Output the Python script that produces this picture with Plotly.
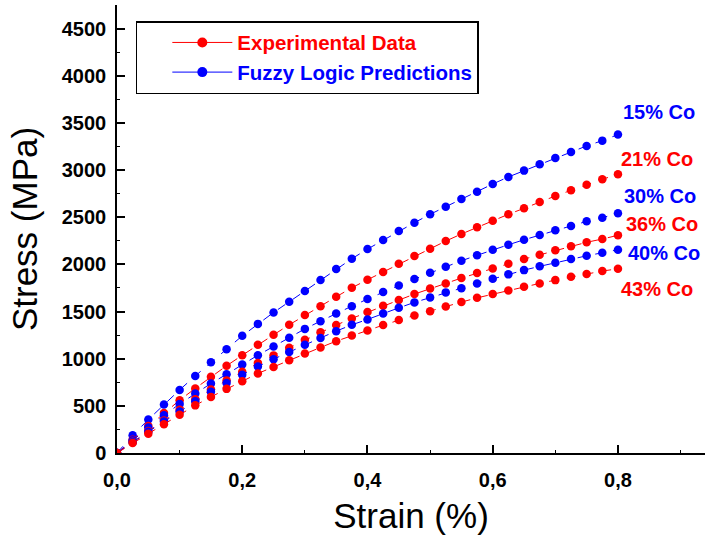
import plotly.graph_objects as go

# strain (%) sample points shared by every curve
strain = [0.0, 0.025, 0.05, 0.075, 0.1, 0.125, 0.15, 0.175, 0.2, 0.225, 0.25,
          0.275, 0.3, 0.325, 0.35, 0.375, 0.4, 0.425, 0.45, 0.475, 0.5, 0.525,
          0.55, 0.575, 0.6, 0.625, 0.65, 0.675, 0.7, 0.725, 0.75, 0.775, 0.8]

# stress (MPa)
co15 = [0, 188, 354, 514, 669, 817, 963, 1101, 1242, 1369, 1490, 1603, 1718, 1834,
        1950, 2060, 2162, 2258, 2354, 2442, 2531, 2612, 2693, 2771, 2852, 2927,
        2994, 3062, 3128, 3192, 3256, 3312, 3376]
co21 = [0, 140, 285, 425, 560, 685, 808, 925, 1036, 1147, 1253, 1359, 1462, 1557,
        1656, 1752, 1837, 1918, 2006, 2088, 2166, 2247, 2322, 2393, 2463, 2531,
        2594, 2661, 2725, 2785, 2845, 2902, 2955]
co30 = [0, 135, 270, 400, 520, 630, 737, 835, 938, 1037, 1129, 1221, 1316, 1398,
        1480, 1557, 1632, 1706, 1777, 1844, 1911, 1975, 2038, 2096, 2155, 2208,
        2261, 2311, 2361, 2407, 2456, 2495, 2541]
co36 = [0, 118, 232, 345, 458, 570, 673, 770, 862, 953, 1035, 1115, 1200, 1280,
        1356, 1427, 1494, 1561, 1621, 1685, 1745, 1798, 1855, 1908, 1957, 2006,
        2056, 2102, 2149, 2191, 2234, 2269, 2308]
co40 = [0, 115, 225, 333, 440, 550, 650, 742, 830, 918, 995, 1072, 1148, 1220,
        1292, 1359, 1416, 1480, 1539, 1597, 1650, 1703, 1748, 1798, 1847, 1894,
        1939, 1979, 2017, 2056, 2091, 2123, 2155]
co43 = [0, 105, 205, 305, 405, 505, 595, 680, 762, 843, 913, 984, 1055, 1119,
        1186, 1246, 1299, 1356, 1409, 1459, 1504, 1554, 1600, 1645, 1685, 1724,
        1762, 1798, 1833, 1868, 1897, 1929, 1953]

series_names = ["15% Co", "21% Co", "30% Co", "36% Co", "40% Co", "43% Co"]
series_values = [co15, co21, co30, co36, co40, co43]
series_kind = ["fuzzy", "exp", "fuzzy", "exp", "fuzzy", "exp"]

# where the right-hand labels sit (strain, stress)
label_x = [0.805, 0.802, 0.807, 0.809, 0.813, 0.802]
label_y = [3620, 3116, 2724, 2425, 2116, 1738]

RED = "#ff0000"
BLUE = "#0000ff"
FONT = "Arial, Liberation Sans, sans-serif"
colors = {"exp": RED, "fuzzy": BLUE}

fig = go.Figure()

# legend entries (solid line samples)
fig.add_trace(go.Scatter(
    x=[None], y=[None], mode="lines+markers",
    line=dict(color=RED, width=1), marker=dict(color=RED, size=10),
    name="<span style='color:#ff0000'>Experimental Data</span>",
))
fig.add_trace(go.Scatter(
    x=[None], y=[None], mode="lines+markers",
    line=dict(color=BLUE, width=1), marker=dict(color=BLUE, size=10),
    name="<span style='color:#0000ff'>Fuzzy Logic Predictions</span>",
))

for name, vals, kind in zip(series_names, series_values, series_kind):
    c = colors[kind]
    fig.add_trace(go.Scatter(
        x=strain, y=vals, mode="lines+markers", name=name, showlegend=False,
        line=dict(color=c, width=1, dash="dash"),
        marker=dict(color=c, size=8.5),
    ))

for name, kind, lx, ly in zip(series_names, series_kind, label_x, label_y):
    fig.add_annotation(
        x=lx, y=ly, xref="x", yref="y", text=name, showarrow=False,
        xanchor="left", yanchor="middle",
        font=dict(family=FONT, size=20, color=colors[kind], weight="bold"),
    )

axis_common = dict(
    showline=True, linecolor="black", linewidth=1.5,
    ticks="inside", ticklen=8, tickwidth=1.5, tickcolor="black",
    showgrid=False, zeroline=False, automargin=False,
    tickfont=dict(family=FONT, size=20, color="black", weight="bold"),
)

fig.update_layout(
    width=705, height=539,
    margin=dict(l=117, r=0, t=5, b=86),
    paper_bgcolor="white", plot_bgcolor="white",
    separators=", ",
    xaxis=dict(
        range=[0, 0.939], tick0=0, dtick=0.2, tickformat=".1f",
        ticklabelstandoff=8,
        minor=dict(dtick=0.1, tick0=0, ticks="inside", ticklen=3,
                   tickcolor="black", tickwidth=1),
        title=dict(text="Strain (%)", standoff=14,
                   font=dict(family=FONT, size=35, color="black")),
        **axis_common,
    ),
    xaxis2=dict(
        overlaying="x", side="top", anchor="y", range=[0, 0.939],
        tick0=0.1, dtick=0.2, showticklabels=False,
        minor=dict(dtick=0.1, tick0=0, ticks="inside", ticklen=3,
                   tickcolor="black", tickwidth=1),
        **{k: v for k, v in axis_common.items() if k != "tickfont"},
    ),
    yaxis=dict(
        range=[0, 4750], tick0=0, dtick=500, tickformat="d",
        ticklabelstandoff=5,
        minor=dict(dtick=250, ticks="inside", ticklen=3,
                   tickcolor="black", tickwidth=1),
        title=dict(text="Stress (MPa)", standoff=14,
                   font=dict(family=FONT, size=35, color="black")),
        **axis_common,
    ),
    legend=dict(
        x=0.032, y=0.964, xanchor="left", yanchor="top",
        bgcolor="white", bordercolor="black", borderwidth=1.5,
        font=dict(family=FONT, size=20.5, weight="bold"),
        itemwidth=60, indentation=30, tracegroupgap=0,
    ),
)

# page body has a default 8px margin; drop it so the figure sits at the corner
fig.write_html(
    "out.html",
    config={"displayModeBar": False},
    post_script="document.body.style.margin='0';",
)
